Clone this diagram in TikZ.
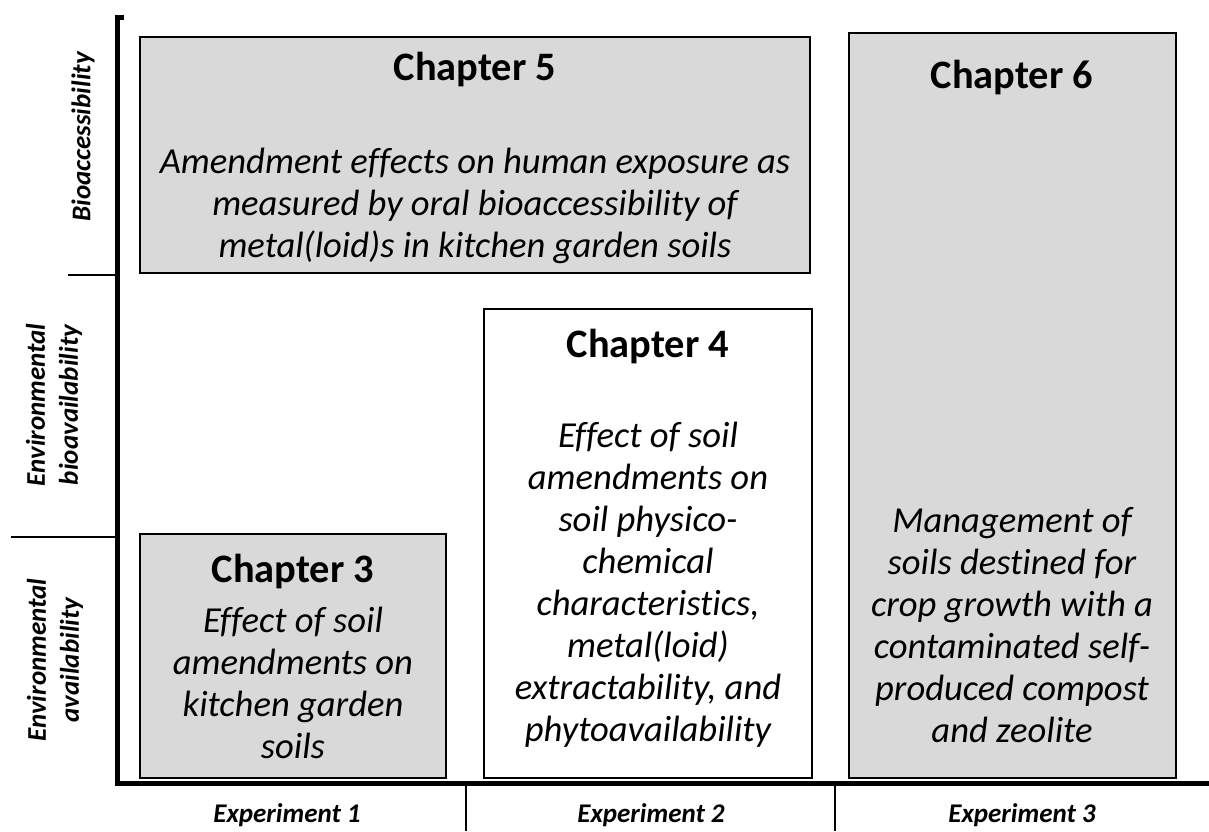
\documentclass[tikz,border=0pt]{standalone}
\usepackage{fontspec}
\setmainfont{Carlito}[Ligatures=NoCommon]
\usepackage{xcolor}
\usepackage{tikz}

\definecolor{boxgray}{HTML}{D9D9D9}

\tikzset{
  chapbox/.style={draw=black, line width=1pt, fill=boxgray},
  whitebox/.style={draw=black, line width=1pt, fill=white},
  chaptitle/.style={anchor=base, inner sep=0pt, font=\bfseries\fontsize{20.2}{24}\selectfont},
  chaptext/.style={anchor=base, inner sep=0pt, align=center, font=\itshape\fontsize{18.3}{21}\selectfont},
  axislabel/.style={inner sep=0pt, align=center, font=\bfseries\itshape\fontsize{13.5}{16.5}\selectfont},
  axisline/.style={line width=2.5pt},
  sepline/.style={line width=1pt}
}

\begin{document}
\begin{tikzpicture}[x=0.5pt, y=-0.5pt]
        \useasboundingbox (0,0) rectangle (1209,831);

        % boxes
        \draw[chapbox] (140,37) rectangle (810,273);    % chapter 5
        \draw[chapbox] (849,33) rectangle (1176,778);   % chapter 6
        \draw[whitebox] (484,309) rectangle (812,778);  % chapter 4
        \draw[chapbox] (140,534) rectangle (446,778);   % chapter 3

        % axes
        \draw[axisline] (124,17) -- (117,17) -- (117,783) -- (1209,783);
        \draw[sepline] (68,275) -- (117,275);
        \draw[sepline] (11,537) -- (117,537);
        \draw[sepline] (466,783) -- (466,831);
        \draw[sepline] (835,783) -- (835,831);

        % chapter texts (base = last line)
        \node[chaptitle] (ch5title) at (475,80) {Chapter 5};
        \node[chaptext] (ch5text) at (475,257) {Amendment effects on human exposure as\\measured by oral bioaccessibility of\\metal(loid)s in kitchen garden soils};

        \node[chaptitle] (ch6title) at (1012,88) {Chapter 6};
        \node[chaptext] (ch6text) at (1012,742) {Management of\\soils destined for\\crop growth with a\\contaminated self-\\produced compost\\and zeolite};

        \node[chaptitle] (ch4title) at (648,357) {Chapter 4};
        \node[chaptext] (ch4text) at (648,741) {Effect of soil\\amendments on\\soil physico-\\chemical\\characteristics,\\metal(loid)\\extractability, and\\phytoavailability};

        \node[chaptitle] (ch3title) at (293,582) {Chapter 3};
        \node[chaptext] (ch3text) at (293,758) {Effect of soil\\amendments on\\kitchen garden\\soils};

        % axis labels
        \node[axislabel, rotate=90] (bioacc) at (83,137) {Bioaccessibility};
        \node[axislabel, rotate=90] (envbio) at (54,405) {Environmental\\bioavailability};
        \node[axislabel, rotate=90] (envavail) at (55,660) {Environmental\\availability};

        \node[axislabel] (exp1) at (287,815) {Experiment 1};
        \node[axislabel] (exp2) at (651,815) {Experiment 2};
        \node[axislabel] (exp3) at (1022,815) {Experiment 3};
    \end{tikzpicture}
\end{document}
